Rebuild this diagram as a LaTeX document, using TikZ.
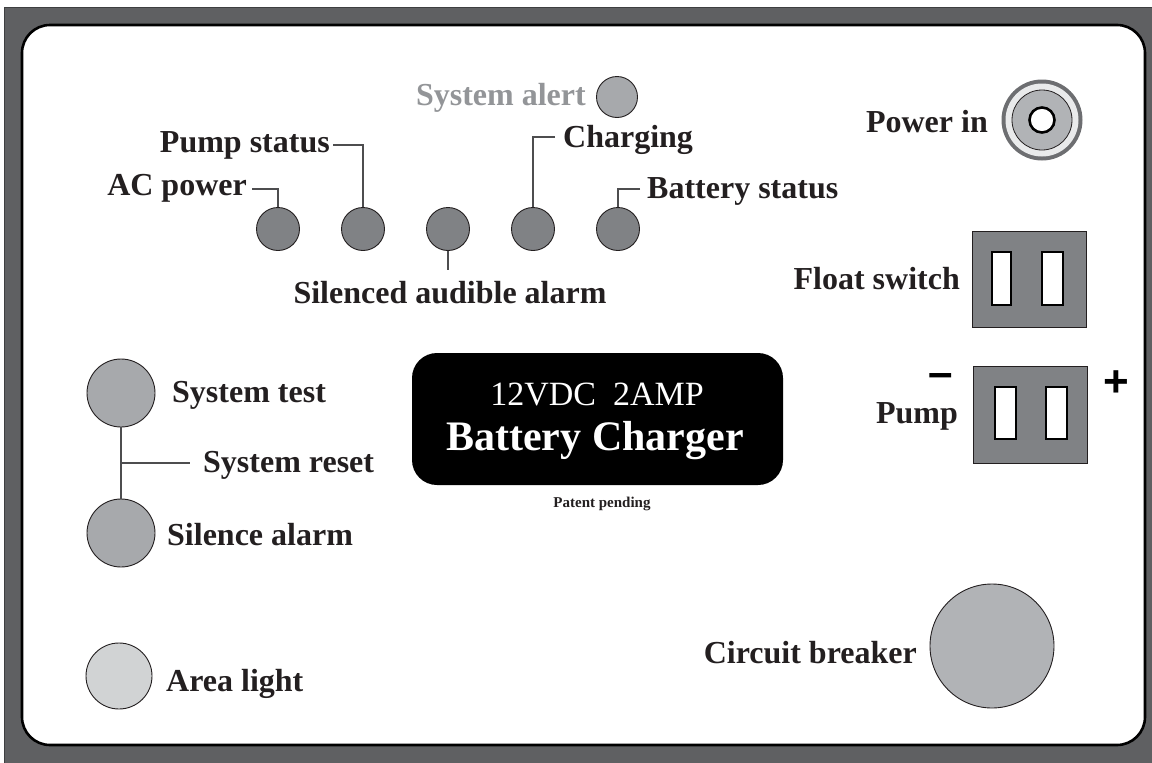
\documentclass[tikz,border=0pt]{standalone}
\usepackage{fontspec}
\setmainfont{Liberation Serif}
\newfontfamily\sansb{Liberation Sans}
\definecolor{framec}{HTML}{5F6062}
\definecolor{framed}{HTML}{3E3F41}
\definecolor{ledc}{HTML}{808285}
\definecolor{alertc}{HTML}{A7A9AC}
\definecolor{btnc}{HTML}{A7A9AC}
\definecolor{areac}{HTML}{D1D3D4}
\definecolor{cbc}{HTML}{B1B3B6}
\definecolor{jackouter}{HTML}{6D6E71}
\definecolor{jackring}{HTML}{E9EAEB}
\definecolor{jackdisk}{HTML}{B1B3B6}
\definecolor{boxc}{HTML}{808285}
\definecolor{txtc}{HTML}{231F20}
\definecolor{graytxt}{HTML}{939598}
\definecolor{leadc}{HTML}{4D4D4F}
\tikzset{
  lbl/.style={inner sep=0pt, text=txtc, font=\fontsize{32}{38}\selectfont\bfseries},
  led/.style={circle, draw=txtc, line width=0.9pt, fill=ledc, minimum size=43pt, inner sep=0pt},
  btn/.style={circle, draw=txtc, line width=0.9pt, fill=btnc, minimum size=68pt, inner sep=0pt},
  leader/.style={draw=leadc, line width=1.2pt},
  sockbox/.style={draw=txtc, line width=0.8pt, fill=boxc, inner sep=0pt},
  slot/.style={draw=black, line width=2pt, fill=white, inner sep=0pt, minimum width=19pt, minimum height=53pt},
  plate/.style={fill=black, rounded corners=25pt},
}
\begin{document}
\begin{tikzpicture}[x=1pt,y=-1pt]
\useasboundingbox (0,0) rectangle (1152,763);
\clip (0,0) rectangle (1152,763);
\fill[white] (0,0) rectangle (1152,763);
% outer frame and inner panel
\draw[fill=framec, draw=framed, line width=1pt] (4,7) rectangle (1170,780);
\draw[fill=white, draw=black, line width=2.6pt, rounded corners=28pt] (22,25) rectangle (1145,745);

% status LEDs
\node[led] (led1) at (278,229) {};
\node[led] (led2) at (363,229) {};
\node[led] (led3) at (448,229) {};
\node[led] (led4) at (533,229) {};
\node[led] (led5) at (618,229) {};
\node[led, fill=alertc, minimum size=41pt] (ledalert) at (617,97) {};

\node[lbl, text=graytxt, anchor=base east] (lalert) at (586,105) {System alert};
\node[lbl, anchor=base east] (lpump) at (330,152) {Pump status};
\node[lbl, anchor=base east] (lac) at (247,195) {AC power};
\node[lbl, anchor=base west] (lchg) at (563,147) {Charging};
\node[lbl, anchor=base west] (lbat) at (647,198) {Battery status};
\node[lbl, anchor=base] (lsil) at (450,303) {Silenced audible alarm};
\coordinate (silend) at (448,270);

\draw[leader] (lac.base east) ++(5,-6) -| (led1.north);
\draw[leader] (lpump.base east) ++(3,-7) -| (led2.north);
\draw[leader] (lchg.base west) ++(-8,-10) -| (led4.north);
\draw[leader] (lbat.base west) ++(-7,-9) -| (led5.north);
\draw[leader] (led3.south) -- (silend);

% power in jack
\node[circle, fill=jackouter, minimum size=81pt, inner sep=0pt] (jack) at (1042,120) {};
\fill[jackring] (jack.center) circle[radius=36.5pt];
\draw[fill=jackdisk, draw=txtc, line width=0.8pt] (jack.center) circle[radius=30pt];
\draw[fill=white, draw=black, line width=2.6pt] (jack.center) circle[radius=12.5pt];
\node[lbl, anchor=base east] (lpower) at (988,132) {Power in};

% float switch
\node[sockbox, minimum width=114pt, minimum height=96pt] (fsw) at (1029,279) {};
\node[slot] (fs1) at (1001.5,278.5) {};
\node[slot, minimum width=21pt] (fs2) at (1052,278.5) {};
\node[lbl, anchor=base east] (lfloat) at (960,289) {Float switch};

% pump
\node[sockbox, minimum width=114pt, minimum height=97pt] (psw) at (1030,414.5) {};
\node[slot, minimum width=21pt, minimum height=52pt] (ps1) at (1005,413) {};
\node[slot, minimum width=21pt, minimum height=52pt] (ps2) at (1056,413) {};
\node[lbl, anchor=base east] (lpumpc) at (958,423) {Pump};
\node[inner sep=0pt, text=black, font=\sansb\bfseries\fontsize{44}{44}\selectfont] (minus) at (940.5,380.5) {–};
\node[inner sep=0pt, text=black, font=\sansb\bfseries\fontsize{44}{44}\selectfont] (plus) at (1116.5,384) {+};

% charger plate
\fill[plate] (412,353) rectangle (783,485);
\node[inner sep=0pt, text=white, font=\fontsize{34}{38}\selectfont, anchor=base] (lvolt) at (597,405) {12VDC\ \ 2AMP};
\node[inner sep=0pt, text=white, font=\fontsize{42}{48}\selectfont\bfseries, anchor=base] (lcharger) at (595,450) {Battery Charger};
\node[inner sep=0pt, text=txtc, font=\fontsize{15}{18}\selectfont\bfseries, anchor=base] (lpatent) at (602,507) {Patent pending};

% left buttons
\node[btn] (btest) at (121,393) {};
\node[btn] (bsil) at (121,533) {};
\node[btn, fill=areac, minimum size=66pt] (barea) at (119,676) {};
\coordinate (jn) at (121,463);
\coordinate (resetend) at (190,463);
\draw[leader] (btest.south) -- (bsil.north);
\draw[leader] (jn) -- (resetend);
\node[lbl, anchor=base west] (ltest) at (172,402) {System test};
\node[lbl, anchor=base west] (lreset) at (203,472) {System reset};
\node[lbl, anchor=base west] (lsilence) at (167,545) {Silence alarm};
\node[lbl, anchor=base west] (larea) at (166,691) {Area light};

% circuit breaker
\node[circle, draw=txtc, line width=0.9pt, fill=cbc, minimum size=124pt, inner sep=0pt] (cb) at (992,646) {};
\node[lbl, anchor=base east] (lcb) at (917,663) {Circuit breaker};
\end{tikzpicture}
\end{document}
